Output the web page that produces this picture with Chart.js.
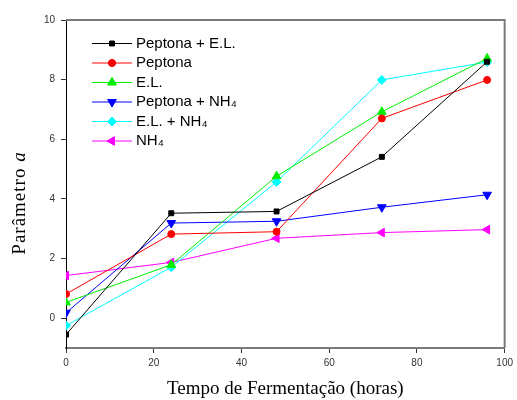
<!DOCTYPE html>
<html>
<head>
<meta charset="utf-8">
<script src="https://cdn.jsdelivr.net/npm/chart.js@4/dist/chart.umd.min.js"></script>
<style>
  html, body { margin: 0; padding: 0; background: #fff; }
  #wrap { width: 517px; height: 400px; }
</style>
</head>
<body>
<div id="wrap"><canvas id="chart" width="517" height="400"></canvas></div>
<script>
/* ---------- data ---------- */
const hours = [0, 24, 48, 72, 96];
const seriesNames = ["Peptona + E.L.", "Peptona", "E.L.", "Peptona + NH\u2084", "E.L. + NH\u2084", "NH\u2084"];
const peptonaEL   = [-0.55, 3.52, 3.58, 5.41, 8.6];
const peptona     = [0.81, 2.82, 2.9, 6.7, 7.99];
const el          = [0.53, 1.79, 4.76, 6.92, 8.71];
const peptonaNH4  = [0.18, 3.19, 3.25, 3.72, 4.14];
const elNH4       = [-0.25, 1.71, 4.57, 7.99, 8.59];
const nh4         = [1.43, 1.87, 2.68, 2.87, 2.97];
const xTicks = [0, 20, 40, 60, 80, 100];
const yTicks = [0, 2, 4, 6, 8, 10];

/* ---------- styles ---------- */
const styles = [
  { color: "#000000", point: "rect",     rot: 0,   r: 3.5 },
  { color: "#ff0000", point: "circle",   rot: 0,   r: 3.5 },
  { color: "#00ee00", point: "triangle", rot: 0,   r: 5 },
  { color: "#0000ff", point: "triangle", rot: 180, r: 5 },
  { color: "#00ffff", point: "rectRot",  rot: 0,   r: 4.5 },
  { color: "#ff00ff", point: "triangle", rot: 270, r: 5 }
];
const allValues = [peptonaEL, peptona, el, peptonaNH4, elNH4, nh4];

const datasets = allValues.map((vals, i) => ({
  label: seriesNames[i],
  data: vals.map((v, j) => ({ x: hours[j], y: v })),
  borderColor: styles[i].color,
  backgroundColor: styles[i].color,
  borderWidth: 1,
  pointStyle: styles[i].point,
  pointRotation: styles[i].rot,
  pointRadius: styles[i].r,
  pointBorderWidth: 1,
  tension: 0
}));

const SERIF = "'Liberation Serif', 'Times New Roman', serif";

/* ---------- frame, titles, legend ---------- */
const decorPlugin = {
  id: "decor",
  afterDraw(chart) {
    const { ctx, chartArea: a } = chart;
    ctx.save();

    // gray top/right frame
    ctx.strokeStyle = "#7a7a7a";
    ctx.lineWidth = 2;
    ctx.beginPath();
    ctx.moveTo(a.left, a.top);
    ctx.lineTo(a.right, a.top);
    ctx.lineTo(a.right, a.bottom);
    ctx.stroke();

    // axis titles
    ctx.fillStyle = "#000";
    ctx.font = "19px " + SERIF;
    ctx.textAlign = "center";
    ctx.textBaseline = "middle";
    ctx.fillText("Tempo de Fermenta\u00e7\u00e3o (horas)", (a.left + a.right) / 2, 389);

    ctx.save();
    ctx.translate(20, 203);
    ctx.rotate(-Math.PI / 2);
    ctx.letterSpacing = "1px";
    const t1 = "Par\u00e2metro ";
    ctx.font = "19px " + SERIF;
    const w1 = ctx.measureText(t1).width;
    ctx.font = "italic 19px " + SERIF;
    const w2 = ctx.measureText("a").width;
    ctx.textAlign = "left";
    ctx.font = "19px " + SERIF;
    ctx.fillText(t1, -(w1 + w2) / 2, 0);
    ctx.font = "italic 19px " + SERIF;
    ctx.fillText("a", -(w1 + w2) / 2 + w1, 0);
    ctx.restore();

    // legend
    ctx.font = "15px 'Liberation Sans', Arial, sans-serif";
    ctx.textAlign = "left";
    ctx.textBaseline = "middle";
    chart.data.datasets.forEach((ds, i) => {
      const y = 43.5 + i * 19.5;
      ctx.strokeStyle = ds.borderColor;
      ctx.lineWidth = 1;
      ctx.beginPath();
      ctx.moveTo(92, y);
      ctx.lineTo(132, y);
      ctx.stroke();
      Chart.helpers.drawPoint(ctx, {
        pointStyle: ds.pointStyle,
        rotation: ds.pointRotation,
        radius: ds.pointRadius,
        borderWidth: 1
      }, 112, y);
      ctx.fillStyle = ds.backgroundColor;
      ctx.fill();
      ctx.fillStyle = "#000";
      ctx.fillText(ds.label, 136, y);
    });
    ctx.restore();
  }
};

new Chart(document.getElementById("chart"), {
  type: "line",
  data: { datasets },
  options: {
    responsive: false,
    animation: false,
    devicePixelRatio: 1,
    layout: { padding: { top: 20, right: 10, left: 0, bottom: 0 } },
    plugins: {
      legend: { display: false },
      tooltip: { enabled: false }
    },
    scales: {
      x: {
        type: "linear",
        min: 0,
        max: 100,
        afterBuildTicks: s => { s.ticks = xTicks.map(v => ({ value: v })); },
        afterFit: s => { s.height = 52; },
        grid: { drawOnChartArea: false, drawTicks: true, tickLength: 5, color: "#333" },
        border: { color: "#7a7a7a", width: 2 },
        ticks: { color: "#333", font: { size: 10, family: "'Liberation Sans', Arial, sans-serif" }, padding: 4, maxRotation: 0 }
      },
      y: {
        min: -1,
        max: 10,
        afterBuildTicks: s => { s.ticks = yTicks.map(v => ({ value: v })); },
        afterFit: s => { s.width = 66; },
        grid: { drawOnChartArea: false, drawTicks: true, tickLength: 5, color: "#333" },
        border: { color: "#000", width: 1 },
        ticks: { color: "#333", font: { size: 10, family: "'Liberation Sans', Arial, sans-serif" }, padding: 6 }
      }
    }
  },
  plugins: [decorPlugin]
});
</script>
</body>
</html>
